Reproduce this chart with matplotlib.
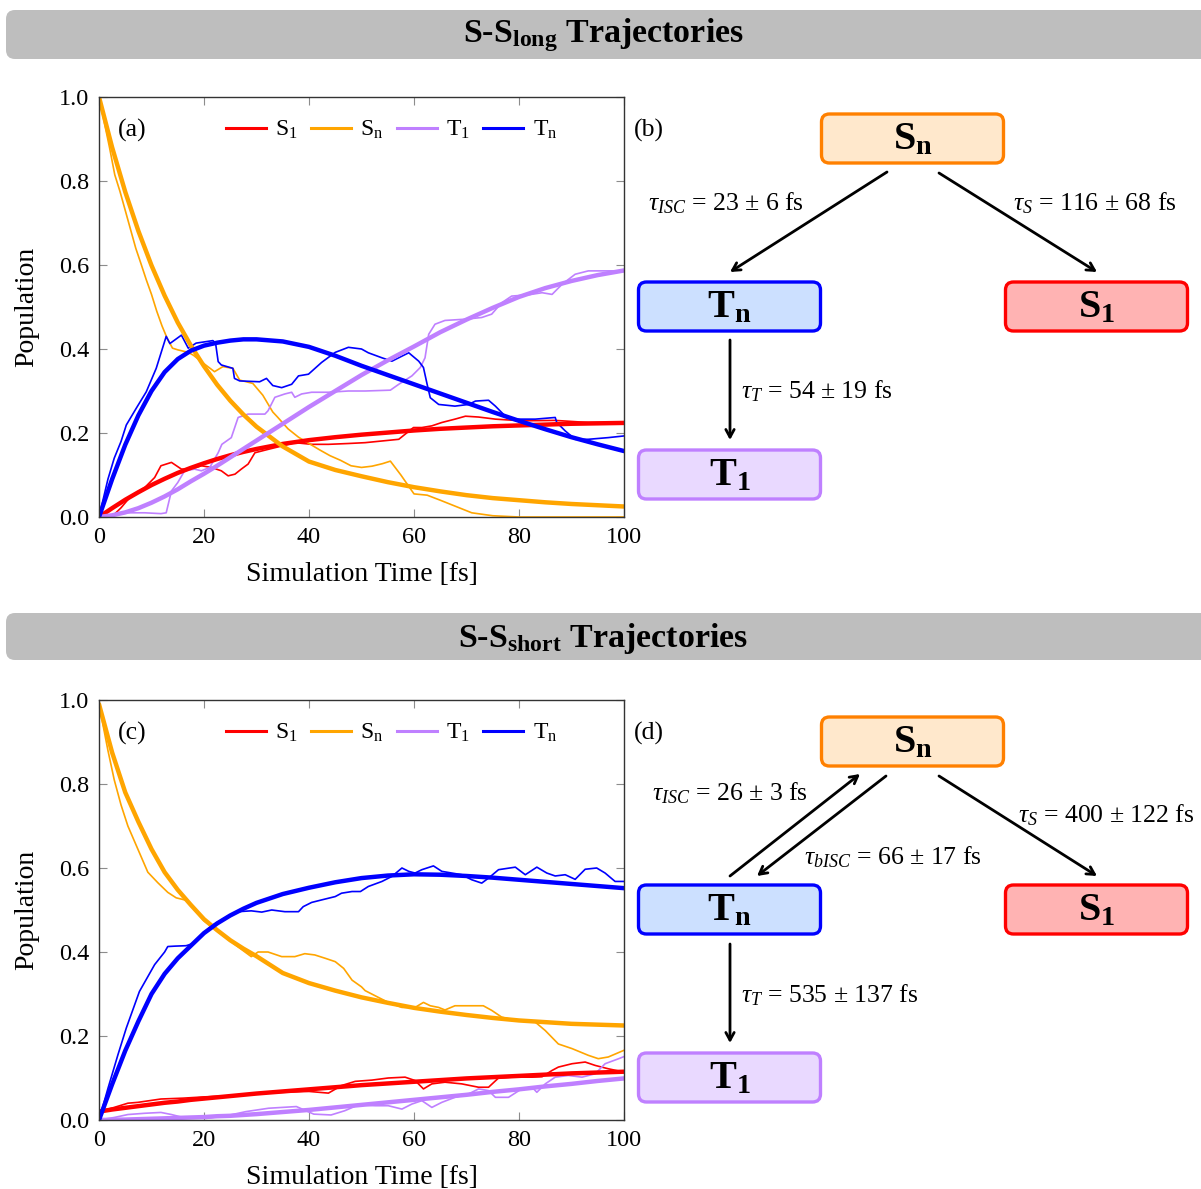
import numpy as np
import matplotlib
matplotlib.use("Agg")
import matplotlib.pyplot as plt
from matplotlib.patches import FancyBboxPatch
from matplotlib.lines import Line2D

plt.rcParams['font.family'] = ['Liberation Serif', 'DejaVu Serif']
plt.rcParams['mathtext.fontset'] = 'custom'
plt.rcParams['mathtext.rm'] = 'Liberation Serif'
plt.rcParams['mathtext.it'] = 'Liberation Serif:italic'
plt.rcParams['mathtext.bf'] = 'Liberation Serif:bold'

# colours of the four states
C_S1 = '#ff0000'
C_SN = '#ffa500'
C_T1 = '#bf80ff'
C_TN = '#0000ff'

# ---- kinetic fits (common time grid) ----
t_fit = [0, 2.5, 5, 7.5, 10, 12.5, 15, 17.5, 20, 22.5, 25, 27.5, 30, 35, 40, 45,
         50, 55, 60, 65, 70, 75, 80, 85, 90, 95, 100]

# S-S long
fit_sn_a = [1.0, 0.88, 0.774, 0.681, 0.599, 0.527, 0.463, 0.408, 0.359, 0.315, 0.277,
            0.244, 0.215, 0.168, 0.132, 0.112, 0.097, 0.083, 0.071, 0.061, 0.052,
            0.045, 0.04, 0.035, 0.031, 0.028, 0.025]
fit_tn_a = [0.0, 0.09, 0.172, 0.242, 0.30, 0.345, 0.376, 0.396, 0.408, 0.415, 0.42,
            0.423, 0.423, 0.418, 0.405, 0.384, 0.36, 0.338, 0.316, 0.294, 0.272,
            0.25, 0.229, 0.209, 0.19, 0.173, 0.157]
fit_s1_a = [0.0, 0.021, 0.041, 0.059, 0.076, 0.091, 0.105, 0.117, 0.128, 0.138, 0.147,
            0.155, 0.162, 0.174, 0.183, 0.19, 0.196, 0.201, 0.206, 0.21, 0.213,
            0.216, 0.218, 0.22, 0.222, 0.223, 0.224]
fit_t1_a = [0.0, 0.004, 0.011, 0.021, 0.034, 0.049, 0.066, 0.085, 0.103, 0.122, 0.142,
            0.162, 0.182, 0.222, 0.262, 0.3, 0.338, 0.373, 0.406, 0.44, 0.47,
            0.498, 0.524, 0.545, 0.562, 0.576, 0.587]

# S-S short
fit_sn_c = [0.99, 0.875, 0.78, 0.71, 0.645, 0.59, 0.548, 0.512, 0.478, 0.452, 0.428,
            0.408, 0.39, 0.35, 0.326, 0.308, 0.292, 0.279, 0.267, 0.258, 0.25,
            0.243, 0.237, 0.233, 0.229, 0.227, 0.225]
fit_tn_c = [0.0, 0.085, 0.165, 0.235, 0.30, 0.348, 0.385, 0.415, 0.445, 0.468, 0.487,
            0.503, 0.517, 0.538, 0.553, 0.566, 0.576, 0.582, 0.585, 0.584, 0.581,
            0.577, 0.572, 0.567, 0.562, 0.557, 0.552]
fit_s1_c = [0.02, 0.025, 0.029, 0.033, 0.037, 0.041, 0.044, 0.048, 0.051, 0.054, 0.057,
            0.06, 0.063, 0.068, 0.073, 0.078, 0.083, 0.087, 0.091, 0.095, 0.099,
            0.102, 0.105, 0.108, 0.111, 0.113, 0.115]
fit_t1_c = [0.0, 0.0005, 0.001, 0.002, 0.003, 0.004, 0.005, 0.006, 0.007, 0.009, 0.01,
            0.012, 0.014, 0.019, 0.024, 0.03, 0.036, 0.042, 0.048, 0.054, 0.06,
            0.067, 0.073, 0.08, 0.086, 0.093, 0.099]

# ---- trajectory-averaged populations, S-S long ----
t_sn_a = [0, 1, 2, 3, 4, 5, 6, 7, 8, 9, 10, 11, 12, 13, 14, 15, 16, 17, 18, 20, 22,
          23.6, 25.5, 26.8, 29.3, 31.2, 33.1, 34, 36, 38, 40, 42, 44, 46, 48, 50,
          52, 54, 55.5, 57.5, 60, 62.5, 65, 68, 71, 75, 80, 90, 100]
pop_sn_a = [1.0, 0.94, 0.88, 0.815, 0.775, 0.73, 0.685, 0.64, 0.603, 0.565, 0.53, 0.49,
            0.455, 0.425, 0.402, 0.398, 0.395, 0.392, 0.385, 0.365, 0.346, 0.358,
            0.354, 0.326, 0.318, 0.29, 0.25, 0.238, 0.21, 0.19, 0.175, 0.16,
            0.146, 0.135, 0.122, 0.118, 0.121, 0.127, 0.133, 0.10, 0.055, 0.052,
            0.04, 0.025, 0.01, 0.003, 0.0, 0.0, 0.0]

t_tn_a = [0, 1.7, 2.9, 4.2, 5.2, 7.1, 9, 10.9, 12.8, 13.5, 15.7, 17, 18.5, 21.7, 22.2,
          22.7, 23.3, 25.5, 25.8, 26.8, 30.6, 31.9, 33.1, 34.8, 36.7, 38,
          39.9, 42.4, 45, 47.5, 50, 51.3, 53.9, 55.8, 57.7, 59, 60.9, 61.8, 62.5,
          63.1, 64.7, 67.8, 70.4, 71.7, 74.2, 75.5, 77.4, 79.3, 83.1, 86.9, 87.2,
          88.8, 90.7, 93.2, 97, 100]
pop_tn_a = [0, 0.09, 0.14, 0.18, 0.219, 0.259, 0.298, 0.354, 0.43, 0.413, 0.433,
            0.402, 0.414, 0.42, 0.414, 0.37, 0.362, 0.354, 0.33, 0.324, 0.322,
            0.33, 0.313, 0.308, 0.316, 0.336, 0.34, 0.368, 0.392,
            0.404, 0.40, 0.391, 0.379, 0.371, 0.383, 0.391, 0.371, 0.356, 0.316,
            0.284, 0.268, 0.264, 0.268, 0.276, 0.278, 0.264, 0.24, 0.233, 0.233,
            0.237, 0.225, 0.205, 0.185, 0.185, 0.189, 0.193]

t_s1_a = [0, 2.9, 4.2, 6.1, 8.7, 10.6, 11.8, 13.8, 15.7, 17.6, 19.5, 21.4, 23.3, 24.6,
          25.9, 27.1, 28.4, 29.7, 32.2, 34.8, 37.3, 40.5, 43.7, 47.5, 50.7, 53.9,
          57.1, 58.3, 59.9, 61.5, 63.4, 65.3, 67.8, 69.8, 72.3, 75.5, 80.5, 86.9,
          93.2, 100]
pop_s1_a = [0, 0.006, 0.022, 0.05, 0.07, 0.094, 0.122, 0.13, 0.114, 0.114, 0.122,
            0.118, 0.11, 0.098, 0.102, 0.114, 0.126, 0.153, 0.161, 0.169, 0.177,
            0.173, 0.173, 0.175, 0.177, 0.181, 0.185, 0.197, 0.213, 0.213, 0.217,
            0.225, 0.233, 0.240, 0.238, 0.233, 0.229, 0.23, 0.225, 0.225]

t_t1_a = [0, 5.5, 8.7, 11.8, 12.8, 13.8, 15, 16.3, 18.2, 19.5, 21.1, 22.7, 23.4, 25.2,
          26.5, 28.4, 31.6, 32.2, 33.5, 35.4, 36.7, 37.3, 38.6, 40.5, 43.7, 47.5,
          50.7, 55.5, 57.1, 59.6, 61.2, 62.1, 62.8, 64, 65.9, 69.8, 72.9, 74.8,
          76.7, 78.6, 81.8, 84.4, 86.3, 88.2, 90.7, 93.2, 97, 100]
pop_t1_a = [0, 0.01, 0.01, 0.008, 0.01, 0.062, 0.082, 0.11, 0.114, 0.11, 0.118, 0.153,
            0.173, 0.189, 0.237, 0.245, 0.245, 0.253, 0.285, 0.293, 0.297, 0.285,
            0.293, 0.297, 0.297, 0.30, 0.30, 0.302, 0.316, 0.336, 0.356, 0.379,
            0.435, 0.459, 0.468, 0.471, 0.475, 0.483, 0.51, 0.526, 0.529, 0.534,
            0.53, 0.554, 0.578, 0.586, 0.586, 0.586]

# ---- trajectory-averaged populations, S-S short ----
t_sn_c = [0, 1.7, 2.9, 4.2, 5.5, 7.4, 9.3, 11.2, 13.1, 14.7, 16, 16.9, 18.2, 20, 22.5,
          25, 27.8, 29, 30.3, 32.2, 34.8, 37.3, 39.2, 41.1, 43.1, 45, 46.6, 48.2, 50,
          50.7, 53.2, 55.1, 57.7, 60.2, 61.8, 63.1, 64.7, 65.9, 67.8, 70.4, 73.2,
          74.8, 76.7, 79.3, 83.1, 85, 87.5, 90.1, 93.2, 95.1, 97, 100]
pop_sn_c = [0.99, 0.88, 0.81, 0.75, 0.70, 0.645, 0.59, 0.565, 0.542, 0.529, 0.525,
            0.522, 0.50, 0.474, 0.45, 0.426, 0.40, 0.389, 0.40, 0.40, 0.389, 0.389,
            0.396, 0.393, 0.385, 0.377, 0.361, 0.333, 0.317, 0.308, 0.292, 0.28,
            0.268, 0.268, 0.28, 0.272, 0.268, 0.262, 0.272, 0.272, 0.272, 0.261,
            0.245, 0.237, 0.233, 0.213, 0.181, 0.17, 0.154, 0.146, 0.15, 0.166]

t_tn_c = [0, 1.7, 3.6, 5.2, 7.7, 10.6, 12.5, 13.1, 14.5, 16.6, 17.9, 21.4, 25.2, 26.5,
          29, 31, 32.9, 35.4, 38, 38.9, 40.5, 42.4, 45, 46.2, 48.2, 49.8, 51.3, 53.9,
          55.8, 57.7, 59, 60.2, 61.5, 63.7, 65.3, 67.2, 69.1, 71, 72.9, 74.2, 76.1,
          79.3, 81.2, 83.4, 85.3, 86.9, 88.8, 90.7, 92.6, 94.8, 96.4, 98.3, 100]
pop_tn_c = [0, 0.075, 0.155, 0.219, 0.306, 0.37, 0.40, 0.413, 0.414, 0.415, 0.42,
            0.462, 0.49, 0.496, 0.498, 0.495, 0.50, 0.496, 0.496, 0.508, 0.518,
            0.524, 0.532, 0.54, 0.544, 0.544, 0.556, 0.568, 0.58, 0.60, 0.592, 0.588,
            0.596, 0.605, 0.592, 0.588, 0.584, 0.572, 0.564, 0.576, 0.596, 0.602,
            0.584, 0.602, 0.588, 0.581, 0.584, 0.573, 0.597, 0.60, 0.588, 0.568, 0.568]

t_s1_c = [0, 2.9, 5.5, 7.4, 11.8, 16, 20, 25, 30, 35, 40, 43.7, 46.2, 48.8, 52, 55.1,
          58.3, 60.2, 61.8, 63.4, 65.9, 69.1, 72.3, 74.2, 76.1, 78.6, 82.5, 84.4,
          86.3, 87.5, 90.1, 92.6, 94.5, 97, 100]
pop_s1_c = [0.02, 0.03, 0.04, 0.042, 0.05, 0.052, 0.055, 0.058, 0.063, 0.066, 0.068,
            0.064, 0.082, 0.092, 0.095, 0.1, 0.102, 0.094, 0.074, 0.086, 0.09, 0.086,
            0.078, 0.078, 0.1, 0.102, 0.102, 0.103, 0.118, 0.126, 0.134, 0.138, 0.13,
            0.122, 0.114]

t_t1_c = [0, 2.9, 5.5, 8.7, 11.8, 13.8, 16, 20.5, 25, 28, 32.3, 37.6, 40.9, 44.2, 46.8,
          49.4, 52.6, 55.1, 57.7, 59.6, 61.5, 63.4, 65.3, 67.8, 70.4, 72.3, 74.2, 75.5,
          78, 80.5, 82.5, 83.4, 85, 86.9, 89.4, 92, 94.5, 96.4, 99, 100]
pop_t1_c = [0, 0.006, 0.013, 0.016, 0.018, 0.013, 0.006, 0.004, 0.012, 0.02, 0.028,
            0.032, 0.014, 0.012, 0.022, 0.036, 0.034, 0.034, 0.026, 0.038, 0.046,
            0.03, 0.042, 0.054, 0.062, 0.074, 0.07, 0.054, 0.054, 0.074, 0.078,
            0.066, 0.086, 0.102, 0.106, 0.102, 0.11, 0.134, 0.146, 0.151]

state_labels = ['S$_1$', 'S$_\\mathrm{n}$', 'T$_1$', 'T$_\\mathrm{n}$']

W, H = 1201, 1189
fig = plt.figure(figsize=(W / 100, H / 100), dpi=100)


def population_axes(top_px, tag, traj, fits):
    ax = fig.add_axes([99 / W, 1 - (top_px + 420) / H, 525 / W, 420 / H])
    colors = [C_S1, C_SN, C_T1, C_TN]
    for (tt, yy), c in zip(traj, colors):
        ax.plot(tt, yy, color=c, lw=1.2, solid_joinstyle='round')
    for yy, c in zip(fits, colors):
        ax.plot(t_fit, yy, color=c, lw=3.2, solid_capstyle='round',
                solid_joinstyle='round')
    ax.set_xlim(0, 100)
    ax.set_ylim(0, 1)
    ax.set_xticks(range(0, 101, 20))
    ax.set_yticks(np.arange(0, 1.01, 0.2))
    ax.set_yticklabels([f'{v:.1f}' for v in np.arange(0, 1.01, 0.2)])
    ax.tick_params(direction='in', top=True, right=True, length=6, width=0.8,
                   color='#8c8c8c', labelsize=17.5, pad=7)
    for sp in ax.spines.values():
        sp.set_color('#333333')
        sp.set_linewidth(1.0)
    ax.set_xlabel('Simulation Time [fs]', fontsize=20, labelpad=10)
    ax.set_ylabel('Population', fontsize=20, labelpad=14)
    ax.text(0.036, 0.921, tag, transform=ax.transAxes, fontsize=18.5, va='center')
    handles = [Line2D([], [], color=c, lw=2.2) for c in colors]
    ax.legend(handles, state_labels, loc='center', bbox_to_anchor=(0.557, 0.921),
              ncol=4, frameon=False, fontsize=17, handlelength=1.7,
              handletextpad=0.4, columnspacing=0.55, borderpad=0)
    return ax


population_axes(97, '(a)',
                [(t_s1_a, pop_s1_a), (t_sn_a, pop_sn_a), (t_t1_a, pop_t1_a), (t_tn_a, pop_tn_a)],
                [fit_s1_a, fit_sn_a, fit_t1_a, fit_tn_a])
population_axes(700, '(c)',
                [(t_s1_c, pop_s1_c), (t_sn_c, pop_sn_c), (t_t1_c, pop_t1_c), (t_tn_c, pop_tn_c)],
                [fit_s1_c, fit_sn_c, fit_t1_c, fit_tn_c])

# overlay in pixel units for headers and kinetic schemes
ov = fig.add_axes([0, 0, 1, 1])
ov.set_xlim(0, W)
ov.set_ylim(H, 0)
ov.axis('off')


def header(y0, h, text):
    ov.add_patch(FancyBboxPatch((6, y0), 1220, h, boxstyle='round,pad=0,rounding_size=9',
                                fc='#bebebe', ec='none'))
    ov.text(603, y0 + 25, text, ha='center', va='center', fontsize=24.5,
            fontweight='bold')


header(10, 49, r'S-S$_\mathbf{long}$ Trajectories')
header(613, 47, r'S-S$_\mathbf{short}$ Trajectories')

box_styles = {
    'Sn': ('#ffe8cc', '#ff8000', r'$\mathbf{S}_\mathbf{n}$'),
    'Tn': ('#cce0ff', '#0000ff', r'$\mathbf{T}_\mathbf{n}$'),
    'S1': ('#ffb3b3', '#ff0000', r'$\mathbf{S}_\mathbf{1}$'),
    'T1': ('#e9d9ff', '#bf80ff', r'$\mathbf{T}_\mathbf{1}$'),
}
box_pos = {'Sn': (912.5, 138.5), 'Tn': (729.5, 306.5), 'S1': (1096.5, 306.5),
           'T1': (729.5, 474.5)}


def state_box(key, dy):
    fc, ec, label = box_styles[key]
    cx, cy = box_pos[key]
    cy += dy
    ov.add_patch(FancyBboxPatch((cx - 91, cy - 24.5), 182, 49,
                                boxstyle='round,pad=0,rounding_size=8',
                                fc=fc, ec=ec, lw=2.4))
    ov.text(cx, cy + 1, label, ha='center', va='center', fontsize=29)


def arrow(x0, y0, x1, y1):
    ov.annotate('', xy=(x1, y1), xytext=(x0, y0),
                arrowprops=dict(arrowstyle='->,head_length=0.55,head_width=0.3',
                                lw=2.0, color='black', shrinkA=0, shrinkB=0))


def rate_label(x, y, txt):
    ov.text(x, y, txt, ha='left', va='center', fontsize=18.5)


# (b) S-S long scheme
ov.text(634, 130, '(b)', fontsize=18.5, va='center')
for k in box_pos:
    state_box(k, 0)
arrow(887, 172, 730, 272)
arrow(939, 173, 1097, 272)
arrow(730, 340, 730, 440)
rate_label(648, 203, r'$\tau_{ISC}$ = 23 ± 6 fs')
rate_label(1013, 203, r'$\tau_{S}$ = 116 ± 68 fs')
rate_label(741, 391, r'$\tau_{T}$ = 54 ± 19 fs')

# (d) S-S short scheme
dy = 603
ov.text(634, 130 + dy, '(d)', fontsize=18.5, va='center')
for k in box_pos:
    state_box(k, dy)
arrow(730, 876, 860, 774)
arrow(886, 776, 757, 876)
arrow(939, 776, 1097, 876)
arrow(730, 944, 730, 1043)
rate_label(652, 793, r'$\tau_{ISC}$ = 26 ± 3 fs')
rate_label(804, 857, r'$\tau_{bISC}$ = 66 ± 17 fs')
rate_label(1018, 815, r'$\tau_{S}$ = 400 ± 122 fs')
rate_label(741, 995, r'$\tau_{T}$ = 535 ± 137 fs')

fig.savefig('out.png', dpi=100)
